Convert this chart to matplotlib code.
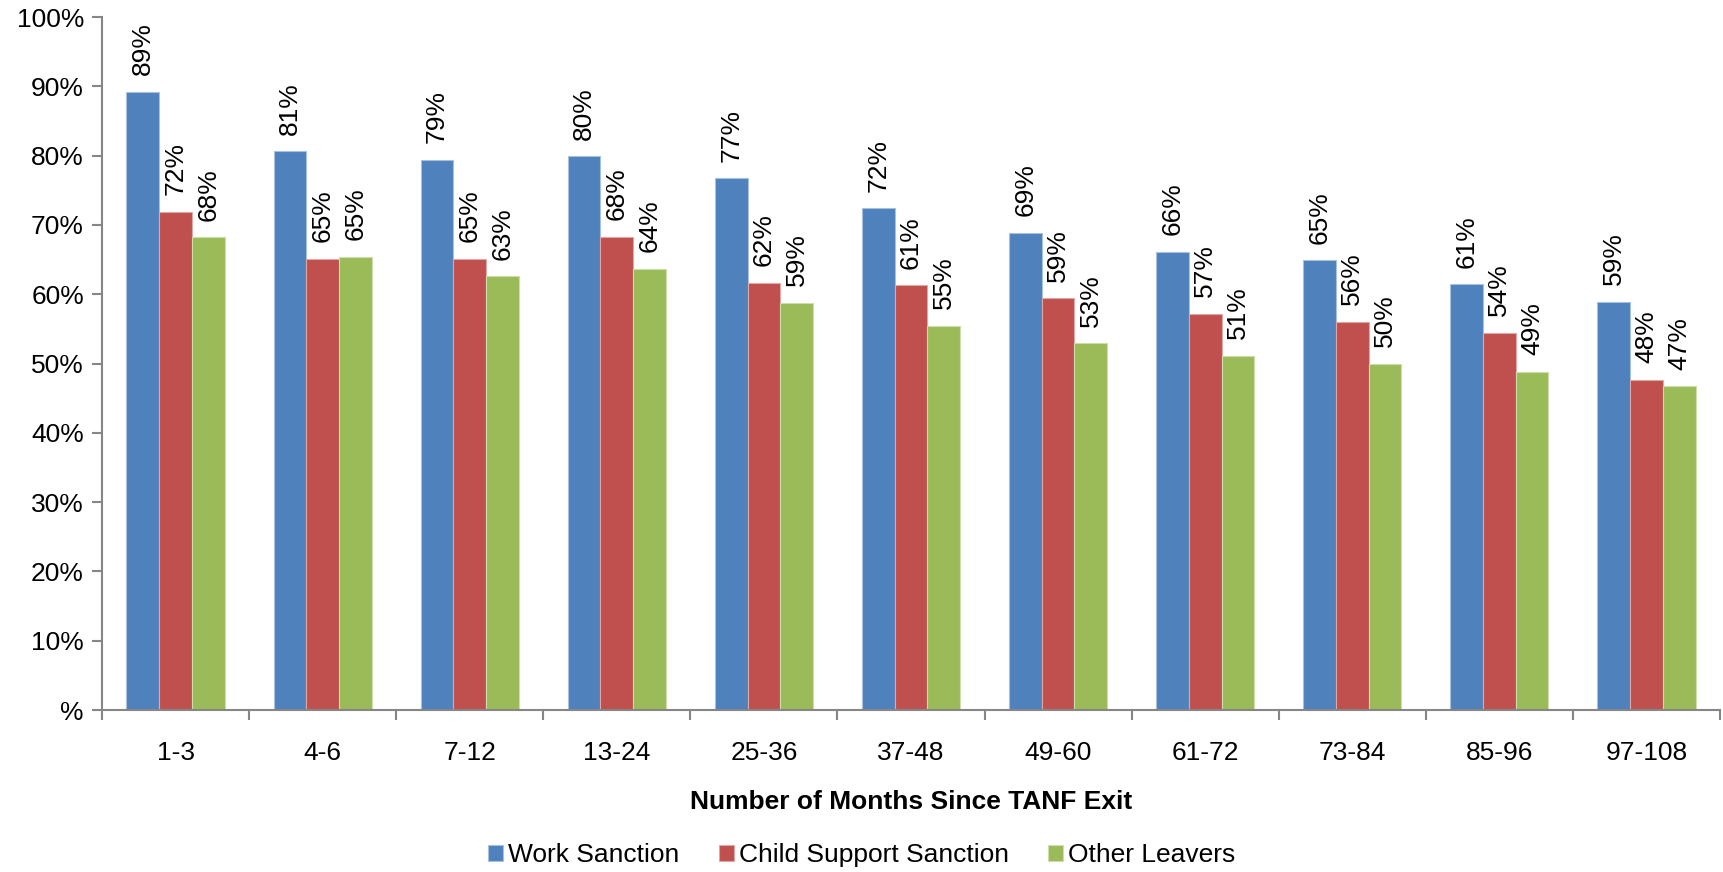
import matplotlib
matplotlib.use("Agg")
import matplotlib.pyplot as plt
import numpy as np
from matplotlib.ticker import FixedLocator, FuncFormatter

categories = ["1-3", "4-6", "7-12", "13-24", "25-36", "37-48", "49-60", "61-72", "73-84", "85-96", "97-108"]
work_sanction = [89.2, 80.6, 79.4, 79.9, 76.7, 72.4, 68.9, 66.1, 64.9, 61.4, 58.9]
child_support = [71.9, 65.1, 65.1, 68.3, 61.6, 61.3, 59.4, 57.2, 56.0, 54.4, 47.6]
other_leavers = [68.2, 65.4, 62.6, 63.7, 58.8, 55.4, 52.9, 51.1, 50.0, 48.8, 46.7]
series_names = ["Work Sanction", "Child Support Sanction", "Other Leavers"]
colors = ["#4F81BD", "#C0504D", "#9BBB59"]
edge_colors = ["#A7C0DE", "#DFA8A6", "#CDDDAC"]

plt.rcParams['font.family'] = ['Liberation Sans', 'DejaVu Sans']
FS = 19

fig = plt.figure(figsize=(17.24, 8.72), dpi=100)
ax = fig.add_axes([102/1724, 1 - 710/872, (1720 - 102)/1724, (710 - 17)/872])

x = np.arange(len(categories))
w = 0.2225
data = [work_sanction, child_support, other_leavers]
for i, (vals, name, c, ec) in enumerate(zip(data, series_names, colors, edge_colors)):
    pos = x + (i - 1) * w
    ax.bar(pos, vals, width=w, color=c, edgecolor=ec, linewidth=0.8, label=name, zorder=2)
    for px, v in zip(pos, vals):
        ax.annotate(f"{int(v + 0.5)}%", xy=(px, v), xytext=(0, 12), textcoords="offset points",
                    rotation=90, ha="center", va="bottom", fontsize=FS)

ax.set_xlim(-0.5, len(categories) - 0.5)
ax.set_ylim(0, 100)
ax.yaxis.set_major_locator(FixedLocator(np.arange(0, 101, 10)))
ax.yaxis.set_major_formatter(FuncFormatter(lambda v, p: "%" if v == 0 else f"{int(v)}%"))
ax.set_xticks(x)
ax.set_xticklabels(categories)
ax.xaxis.set_minor_locator(FixedLocator(np.arange(-0.5, len(categories), 1.0)))
ax.tick_params(axis='x', which='major', length=0, pad=22, labelsize=FS)
ax.tick_params(axis='x', which='minor', length=7, width=1.5, color="#868686", direction='out')
ax.tick_params(axis='y', which='major', length=7, width=1.5, color="#868686", labelsize=FS, pad=6)

for s in ["top", "right"]:
    ax.spines[s].set_visible(False)
for s in ["left", "bottom"]:
    ax.spines[s].set_color("#868686")
    ax.spines[s].set_linewidth(1.5)

ax.set_xlabel("Number of Months Since TANF Exit", fontsize=FS, fontweight="bold", labelpad=18)

fig.legend(loc="center", bbox_to_anchor=(0.5, 1 - 855/872), ncol=3, frameon=False,
           fontsize=FS, handlelength=0.55, handleheight=0.55, handletextpad=0.2, columnspacing=1.5)

fig.savefig("out.png", dpi=100)
